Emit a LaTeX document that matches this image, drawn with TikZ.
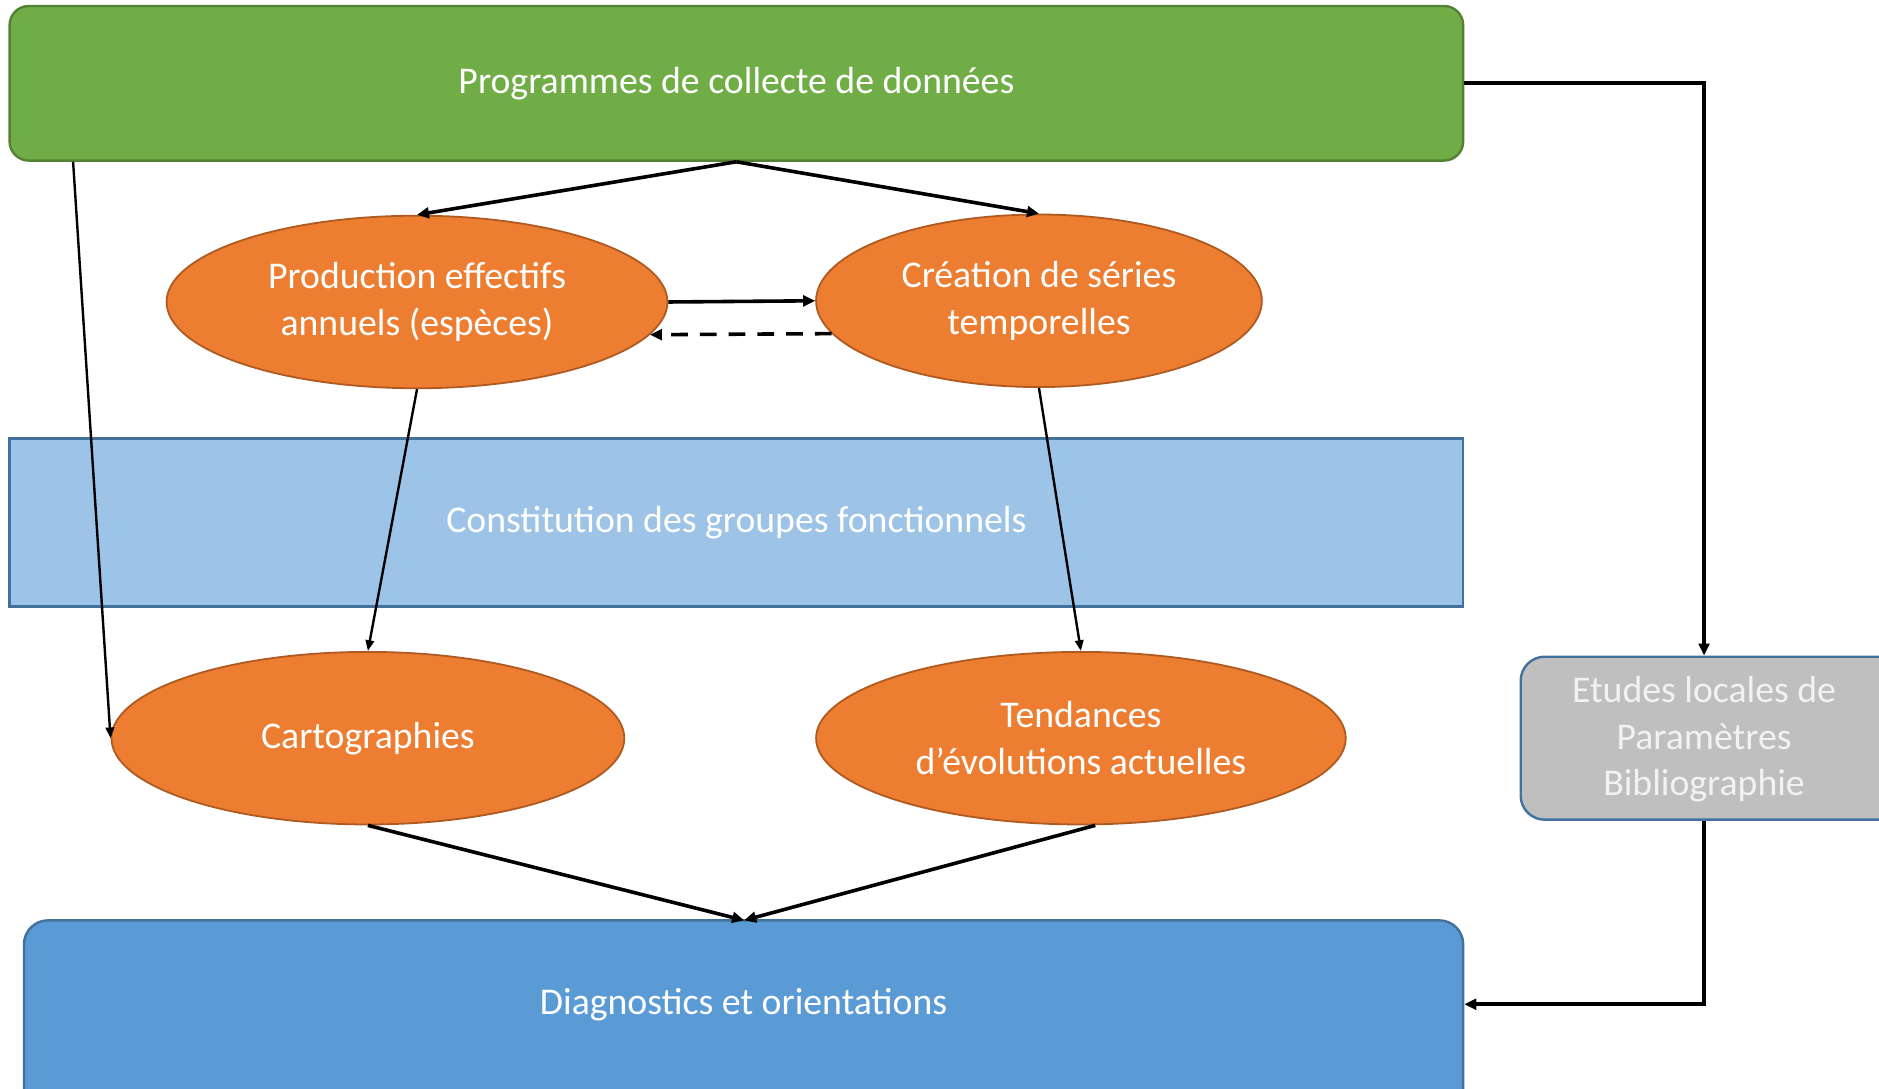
\documentclass[tikz,border=0pt]{standalone}
\usepackage{fontspec}
\setmainfont{Carlito}
\usetikzlibrary{shapes.geometric,arrows.meta,calc}
\definecolor{pgreen}{HTML}{70AD47}
\definecolor{pgreenb}{HTML}{548235}
\definecolor{porange}{HTML}{ED7D31}
\definecolor{porangeb}{HTML}{AE5A21}
\definecolor{plblue}{HTML}{9DC3E6}
\definecolor{pblue}{HTML}{5B9BD5}
\definecolor{pblueb}{HTML}{41719C}
\definecolor{pgray}{HTML}{BFBFBF}
\definecolor{ptext}{HTML}{F2F2F2}
\tikzset{
  txt/.style={text=white,font=\fontsize{31.5}{39}\selectfont,align=center},
  oval/.style={ellipse,draw=porangeb,line width=1.5pt,fill=porange,inner sep=0pt,txt},
  boxr/.style={rectangle,inner sep=0pt,txt},
  arr/.style={line width=3pt,-{Triangle[length=10pt,width=9pt]}},
  arrthin/.style={line width=2pt,-{Triangle[length=9pt,width=7pt]}}
}
\begin{document}
\begin{tikzpicture}[x=1pt,y=-1pt]
\useasboundingbox (0,0) rectangle (1568,908);
\clip (0,0) rectangle (1568,908);
% boxes
\node[boxr,draw=pgreenb,line width=2pt,fill=pgreen,rounded corners=16pt,minimum width=1213pt,minimum height=129pt] (prog) at (614.5,69.5) {Programmes de collecte de données};
\node[boxr,draw=pblueb,line width=2pt,fill=plblue,minimum width=1213pt,minimum height=140pt] (const) at (614.5,436) {Constitution des groupes fonctionnels};
\node[boxr,draw=pblueb,line width=2pt,fill=pblue,rounded corners=20pt,minimum width=1201pt,minimum height=160pt] (diag) at (620.5,848) {};
\node[txt] (diagt) at (620.5,838) {Diagnostics et orientations};
\node[boxr,draw=pblueb,line width=2pt,fill=pgray,rounded corners=20pt,minimum width=320pt,minimum height=136pt,text=ptext] (etud) at (1429,616) {};
\node[txt,text=ptext] (etudt) at (1422,617) {Etudes locales de\\Paramètres\\Bibliographie};
% ellipses
\node[oval,minimum width=418pt,minimum height=144pt] (prod) at (348,252) {Production effectifs\\annuels (espèces)};
\node[oval,minimum width=372pt,minimum height=144pt] (crea) at (867,251) {Création de séries\\temporelles};
\node[oval,minimum width=428pt,minimum height=144pt] (carto) at (307,616) {Cartographies};
\node[oval,minimum width=442pt,minimum height=144pt] (tend) at (902,616) {Tendances\\d’évolutions actuelles};
% connectors
\coordinate (progbl) at ($(prog.south west)+(54,0)$);
\coordinate (diagtop) at (621,768);
\draw[arr] (prog.south) -- (prod.north);
\draw[arr] (prog.south) -- (crea.north);
\draw[arrthin] (progbl) -- (carto.west);
\draw[arr] (prod.east) -- (crea.west);
\draw[arr,dashed,dash pattern=on 14pt off 10pt] (crea.189) -- (prod.352);
\draw[arrthin] (prod.south) -- (carto.north);
\draw[arrthin] (crea.south) -- (tend.north);
\draw[arr] (carto.south) -- (diagtop);
\draw[arr] ($(tend.south)+(12,0)$) -- (diagtop);
\draw[arr] (prog.east) -| (etud.north -| etudt);
\draw[arr] (etud.south -| etudt) |- (diag.east |- diagt);
\end{tikzpicture}
\end{document}
